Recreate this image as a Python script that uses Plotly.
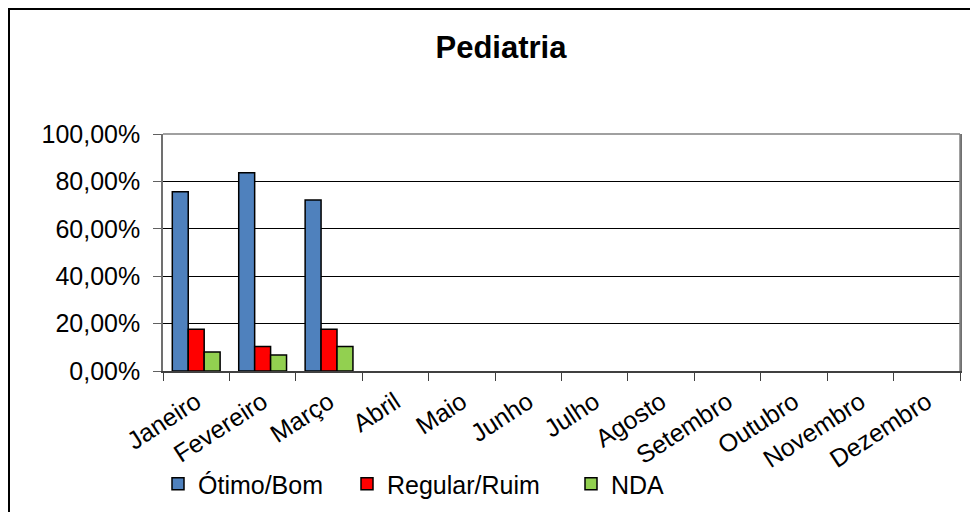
import plotly.graph_objects as go

months = ["Janeiro", "Fevereiro", "Março", "Abril", "Maio", "Junho", "Julho",
          "Agosto", "Setembro", "Outubro", "Novembro", "Dezembro"]
otimo_bom = [0.756, 0.837, 0.722, None, None, None, None, None, None, None, None, None]
regular_ruim = [0.176, 0.103, 0.176, None, None, None, None, None, None, None, None, None]
nda = [0.080, 0.067, 0.103, None, None, None, None, None, None, None, None, None]
y_ticks = [0, 0.2, 0.4, 0.6, 0.8, 1.0]

# page is rendered with an 8px body margin, so work in page pixels and offset
O = 8
W, H = 978 - O, 512 - O
L, R, T, B = 163 - O, 960 - O, 134 - O, 371 - O


def px(x):  # page pixel -> paper x
    return (x - O - L) / (R - L)


def py(y):  # page pixel -> paper y
    return (B - (y - O)) / (B - T)


FONT = "Liberation Sans, Arial, sans-serif"
line = dict(color="black", width=1.5)

fig = go.Figure()
fig.add_trace(go.Bar(name="Ótimo/Bom", x=months, y=otimo_bom,
                     marker=dict(color="#4F81BD", line=line)))
fig.add_trace(go.Bar(name="Regular/Ruim", x=months, y=regular_ruim,
                     marker=dict(color="#FF0000", line=line), legend="legend2"))
fig.add_trace(go.Bar(name="NDA", x=months, y=nda,
                     marker=dict(color="#92D050", line=line), legend="legend3"))

leg_common = dict(orientation="h", yanchor="middle", xanchor="left",
                  font=dict(family=FONT, size=25, color="black"),
                  bgcolor="rgba(0,0,0,0)", itemwidth=30)

fig.update_layout(
    width=W, height=H, showlegend=True,
    margin=dict(l=L, r=W - R, t=T, b=H - B, pad=0, autoexpand=False),
    paper_bgcolor="white", plot_bgcolor="white",
    barmode="group", bargap=0.28, bargroupgap=0,
    separators=",.",
    title=dict(text="<b>Pediatria</b>", x=(501 - O) / W, xanchor="center",
               y=1 - (47 - O) / H, yanchor="middle", xref="container", yref="container",
               font=dict(family=FONT, size=31, color="black")),
    legend=dict(x=px(158), y=py(484), **leg_common),
    legend2=dict(x=px(347), y=py(484), **leg_common),
    legend3=dict(x=px(571), y=py(484), **leg_common),
    xaxis=dict(type="category", tickson="boundaries", ticks="outside", ticklen=8,
               tickcolor="#404040", showline=True, linecolor="#404040", linewidth=1.5,
               tickangle=-33, tickfont=dict(family=FONT, size=25, color="black"),
               ticklabelstandoff=5, showgrid=False),
    yaxis=dict(range=[0, 1], tickvals=y_ticks, tickformat=".2%", ticks="outside",
               ticklen=8, tickcolor="#606060", showline=True, linecolor="#707070",
               mirror=True, linewidth=1.5, showgrid=True, gridcolor="black", gridwidth=1,
               tickfont=dict(family=FONT, size=25, color="black"),
               ticklabelstandoff=8, zeroline=False),
    shapes=[
        dict(type="line", xref="paper", yref="paper", x0=0, x1=1, y0=1, y1=1,
             line=dict(color="#808080", width=1.5)),
        dict(type="line", xref="paper", yref="paper", x0=1, x1=1, y0=0, y1=1,
             line=dict(color="#808080", width=1.5)),
        dict(type="line", xref="paper", yref="paper", x0=px(8), x1=px(990), y0=py(9), y1=py(9),
             line=dict(color="black", width=2)),
        dict(type="line", xref="paper", yref="paper", x0=px(9), x1=px(9), y0=py(8), y1=py(530),
             line=dict(color="black", width=2)),
    ],
)

fig.write_html("out.html")
